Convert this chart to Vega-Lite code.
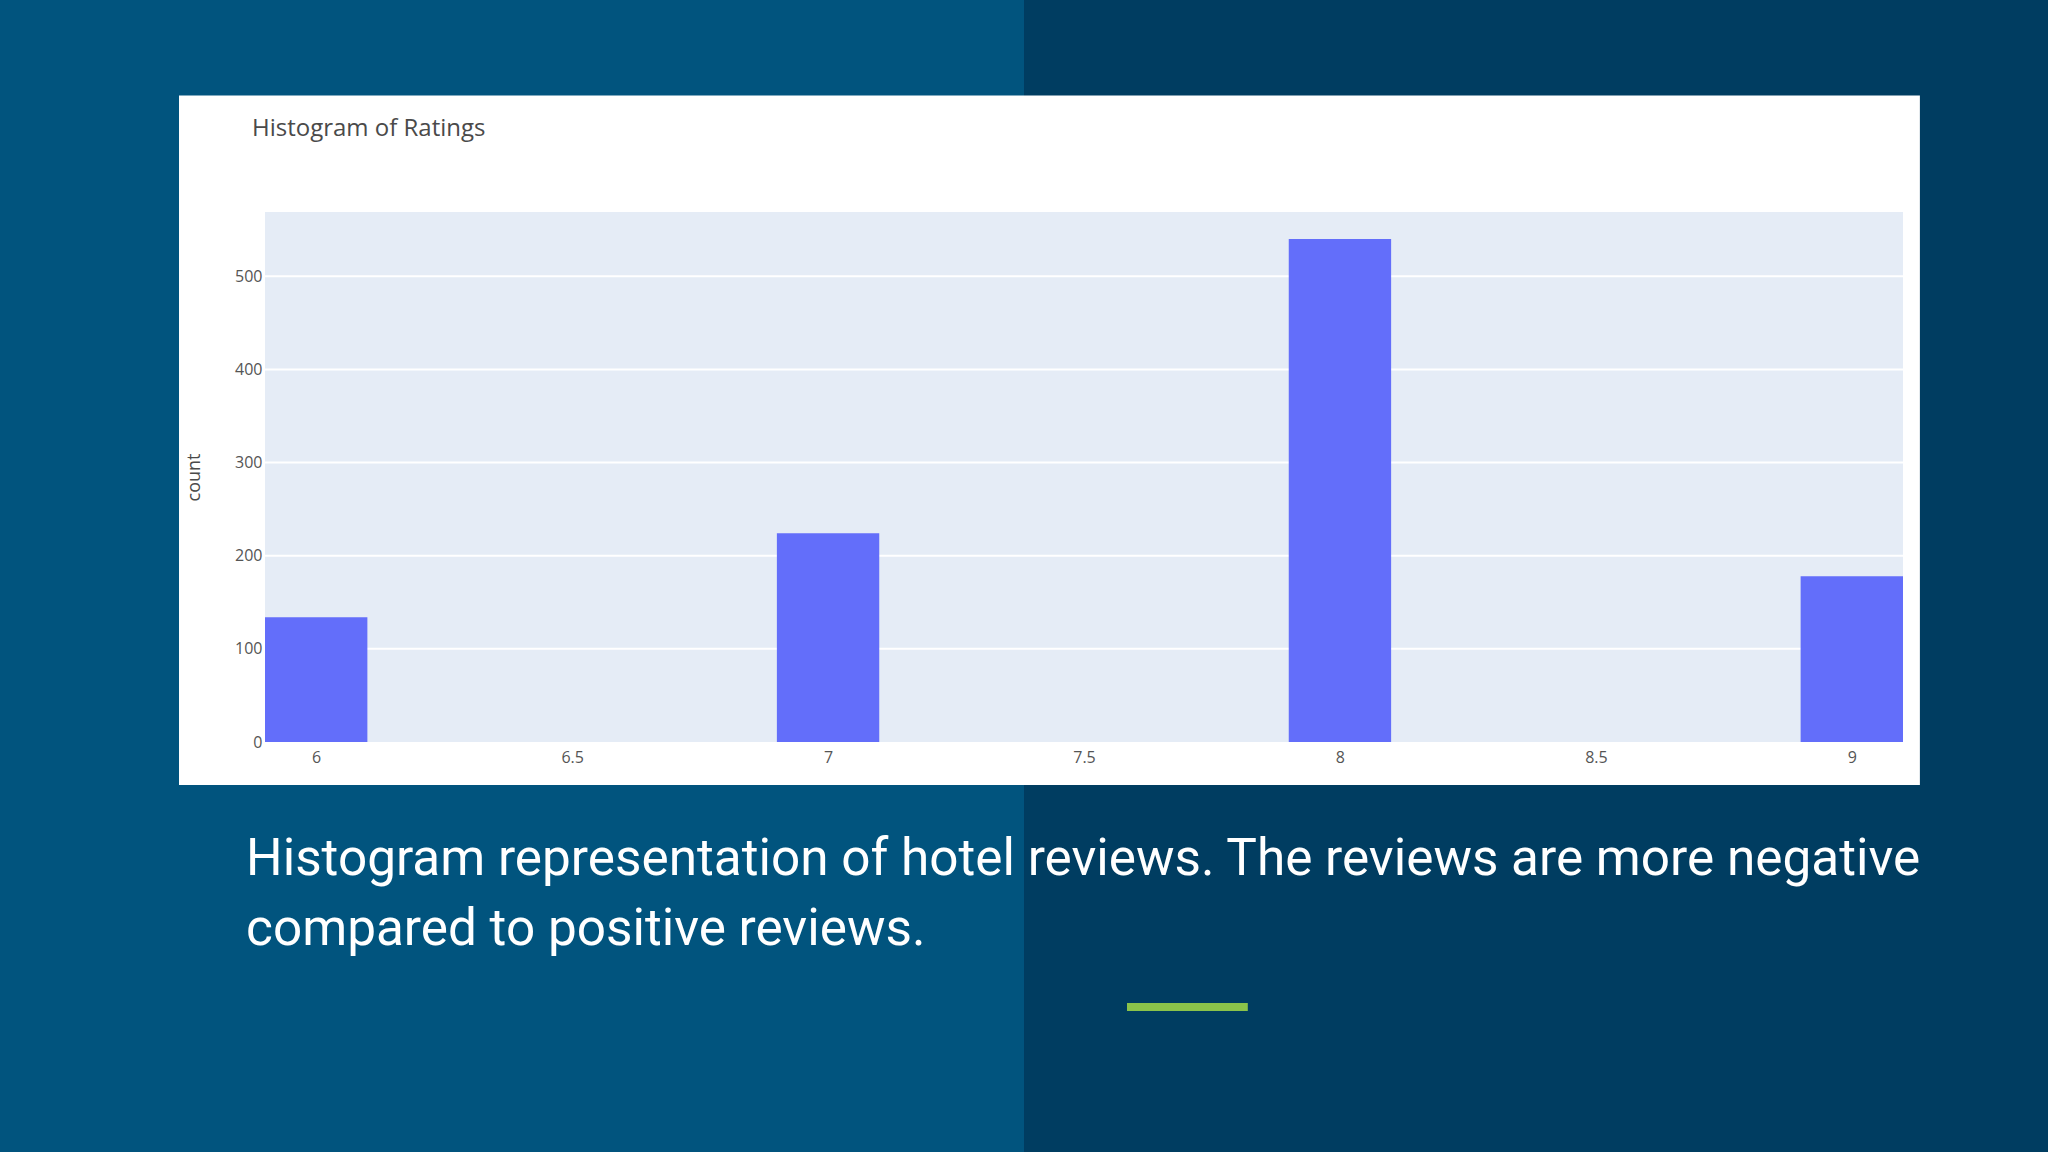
{
  "$schema": "https://vega.github.io/schema/vega-lite/v6.json",
  "autosize": {"type": "none"},
  "width": 1638,
  "height": 530,
  "padding": {"left": 265, "top": 212, "right": 145, "bottom": 410},
  "background": "#003d61",
  "config": {
    "view": {"stroke": null},
    "axis": {"labelFont": "Open Sans", "titleFont": "Open Sans"}
  },
  "layer": [
    {
      "data": {"values": [{}]},
      "mark": {"type": "rect", "color": "#01547e", "clip": false},
      "encoding": {
        "x": {"datum": 5.0, "type": "quantitative", "scale": {"domain": [5.9, 9.1], "nice": false, "zero": false}},
        "x2": {"datum": 7.3828},
        "y": {"datum": 900, "type": "quantitative", "scale": {"domain": [0, 569], "nice": false}},
        "y2": {"datum": -500}
      }
    },
    {
      "data": {"values": [{}]},
      "mark": {"type": "rect", "color": "#ffffff", "clip": false},
      "encoding": {
        "x": {"datum": 5.732, "type": "quantitative", "scale": {"domain": [5.9, 9.1], "nice": false, "zero": false}},
        "x2": {"datum": 9.133},
        "y": {"datum": 694, "type": "quantitative", "scale": {"domain": [0, 569], "nice": false}},
        "y2": {"datum": -46.2}
      }
    },
    {
      "data": {"values": [{}]},
      "mark": {"type": "rect", "color": "#e5ecf6", "clip": false},
      "encoding": {
        "x": {"datum": 5.9, "type": "quantitative", "scale": {"domain": [5.9, 9.1], "nice": false, "zero": false}},
        "x2": {"datum": 9.1},
        "y": {"datum": 569, "type": "quantitative", "scale": {"domain": [0, 569], "nice": false}},
        "y2": {"datum": 0}
      }
    },
    {
      "data": {"values": [{"tick": 100}, {"tick": 200}, {"tick": 300}, {"tick": 400}, {"tick": 500}]},
      "mark": {"type": "rule", "color": "#ffffff", "strokeWidth": 2},
      "encoding": {
        "y": {"field": "tick", "type": "quantitative", "scale": {"domain": [0, 569], "nice": false}}
      }
    },
    {
      "data": {
        "values": [
          {"rating": 6, "bin_start": 5.9, "bin_end": 6.1, "count": 134},
          {"rating": 7, "bin_start": 6.9, "bin_end": 7.1, "count": 224},
          {"rating": 8, "bin_start": 7.9, "bin_end": 8.1, "count": 540},
          {"rating": 9, "bin_start": 8.9, "bin_end": 9.1, "count": 178}
        ]
      },
      "mark": {"type": "bar", "color": "#636efa", "clip": false},
      "encoding": {
        "x": {
          "field": "bin_start",
          "type": "quantitative",
          "scale": {"domain": [5.9, 9.1], "nice": false, "zero": false},
          "axis": {
            "values": [6, 6.5, 7, 7.5, 8, 8.5, 9],
            "format": "~g",
            "title": null,
            "domain": false,
            "ticks": false,
            "grid": false,
            "labelFontSize": 16,
            "labelColor": "#555555",
            "labelPadding": 7,
            "zindex": 1
          }
        },
        "x2": {"field": "bin_end"},
        "y": {
          "field": "count",
          "type": "quantitative",
          "scale": {"domain": [0, 569], "nice": false},
          "axis": {
            "values": [0, 100, 200, 300, 400, 500],
            "title": "count",
            "titleFontSize": 18,
            "titleFontWeight": "normal",
            "titleColor": "#4a4a4a",
            "titlePadding": 31,
            "domain": false,
            "ticks": false,
            "grid": false,
            "labelFontSize": 16,
            "labelColor": "#555555",
            "labelPadding": 3,
            "zindex": 1
          }
        },
        "y2": {"datum": 0}
      }
    },
    {
      "data": {"values": [{}]},
      "mark": {
        "type": "text",
        "clip": false,
        "align": "left",
        "baseline": "alphabetic",
        "font": "Open Sans",
        "fontSize": 24,
        "color": "#4a4a4a",
        "text": "Histogram of Ratings"
      },
      "encoding": {
        "x": {"datum": 5.8746, "type": "quantitative", "scale": {"domain": [5.9, 9.1], "nice": false, "zero": false}},
        "y": {"datum": 650.6, "type": "quantitative", "scale": {"domain": [0, 569], "nice": false}}
      }
    },
    {
      "data": {"values": [{}]},
      "mark": {
        "type": "text",
        "clip": false,
        "align": "left",
        "baseline": "alphabetic",
        "font": "Roboto",
        "fontSize": 51.3,
        "lineHeight": 70,
        "color": "#ffffff",
        "text": ["Histogram representation of hotel reviews. The reviews are more negative", "compared to positive reviews."]
      },
      "encoding": {
        "x": {"datum": 5.863, "type": "quantitative", "scale": {"domain": [5.9, 9.1], "nice": false, "zero": false}},
        "y": {"datum": -142.8, "type": "quantitative", "scale": {"domain": [0, 569], "nice": false}}
      }
    },
    {
      "data": {"values": [{}]},
      "mark": {"type": "rect", "color": "#8bc34a", "clip": false},
      "encoding": {
        "x": {"datum": 7.584, "type": "quantitative", "scale": {"domain": [5.9, 9.1], "nice": false, "zero": false}},
        "x2": {"datum": 7.82},
        "y": {"datum": -280.2, "type": "quantitative", "scale": {"domain": [0, 569], "nice": false}},
        "y2": {"datum": -288.8}
      }
    }
  ]
}
